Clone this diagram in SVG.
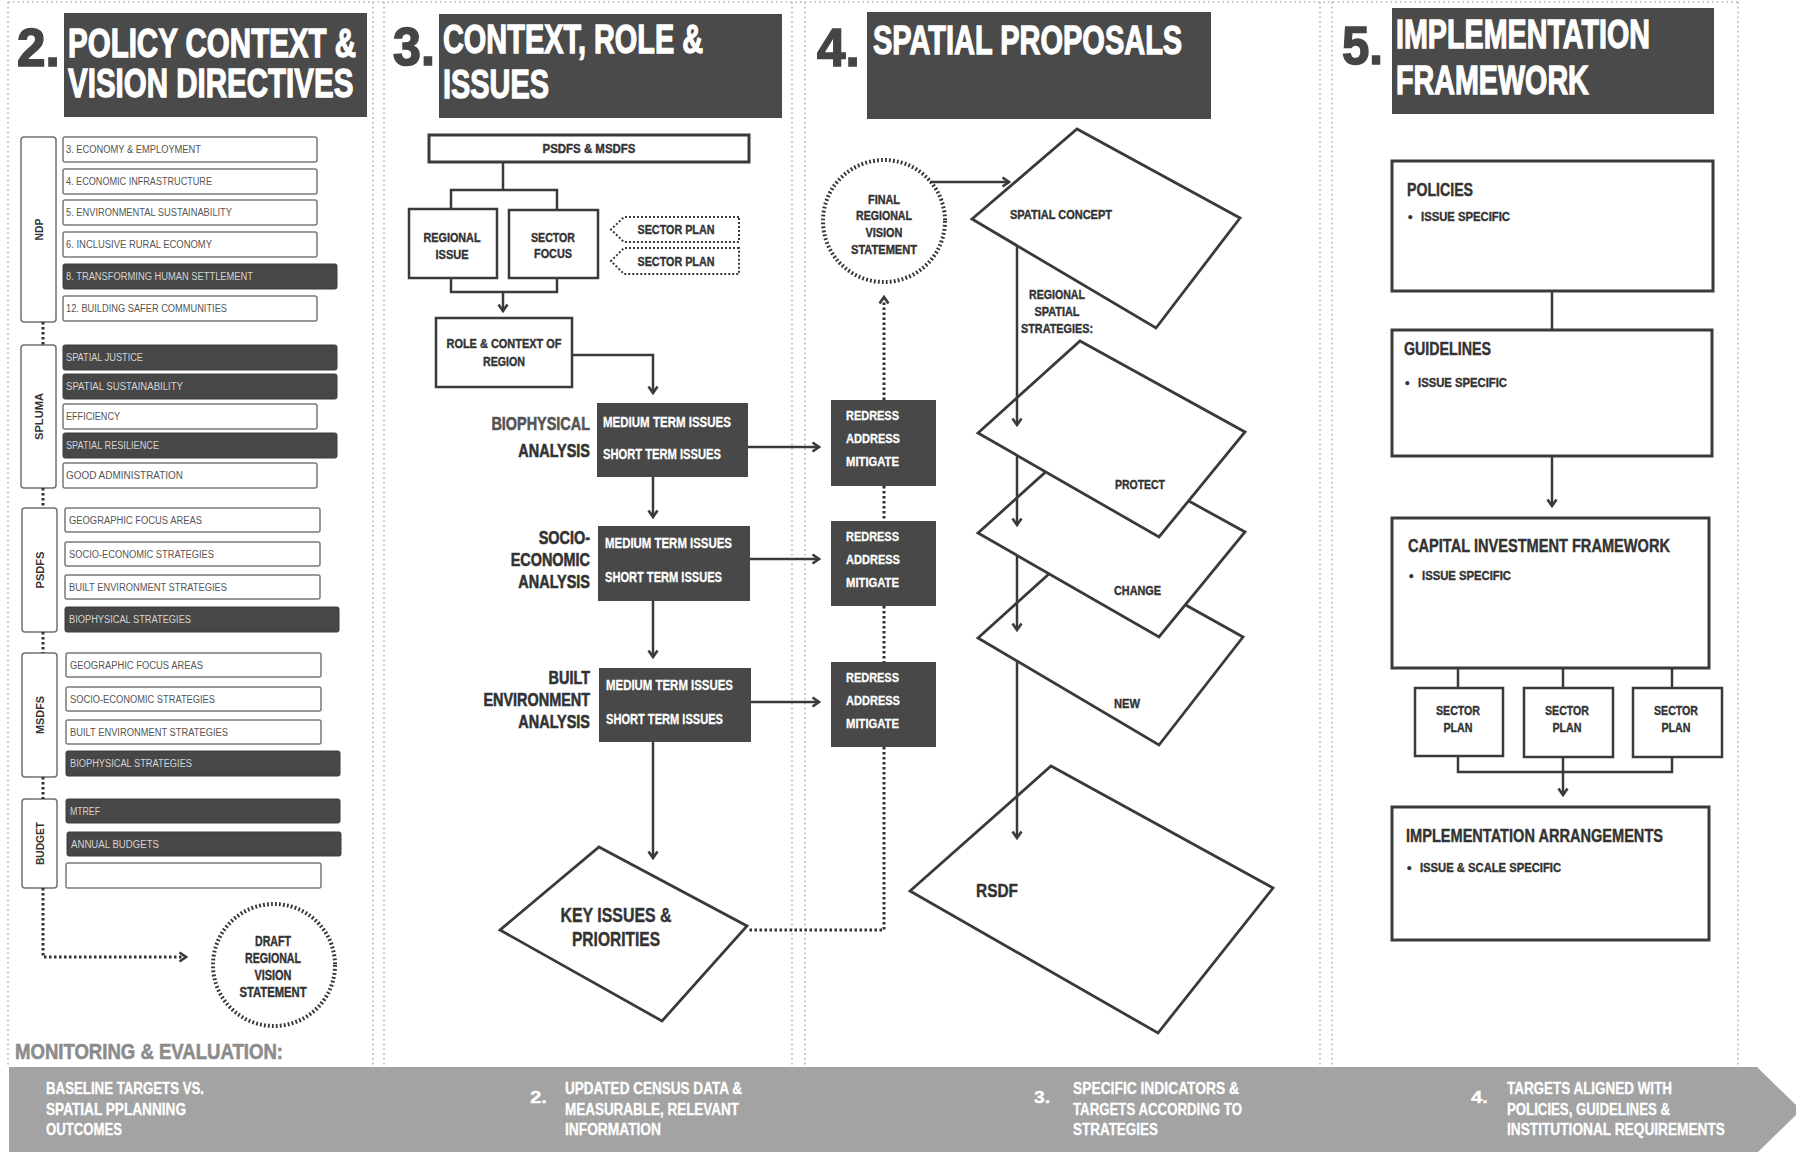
<svg xmlns="http://www.w3.org/2000/svg" width="1796" height="1152" viewBox="0 0 1796 1152">
<defs>
<style>
.col{fill:none;stroke:#b4b4b4;stroke-width:1.6;stroke-dasharray:1.6 3.2}
.hbox{fill:#4a4a4a}
.f{font-family:"Liberation Sans Narrow","Liberation Sans",Arial,sans-serif;font-weight:bold}
.hf{font-family:"Liberation Sans",Arial,sans-serif;font-weight:bold}
.hd{font-size:41px;fill:#fff;stroke:#fff;stroke-width:1.3}
.num{font-size:54px;fill:#454545;stroke:#454545;stroke-width:1.6}
.side{fill:#fff;stroke:#707070;stroke-width:1.5}
.itw{fill:#fff;stroke:#7a7a7a;stroke-width:1.5}
.itd{fill:#474747;stroke:#3c3c3c;stroke-width:1}
.it{font-family:"Liberation Sans",Arial,sans-serif;font-size:10px;fill:#555}
.itl{fill:#d4d4d4}
.sl{font-size:11px;fill:#333}
.lb{fill:#333;stroke:#333;stroke-width:0.4}
.an{font-size:19px;fill:#333;stroke:#333;stroke-width:0.6}
.wt{fill:#fff;stroke:#fff;stroke-width:0.3}
.box{fill:#fff;stroke:#3a3a3a;stroke-width:2.5}
.box3{fill:#fff;stroke:#3a3a3a;stroke-width:3}
.dark{fill:#484848}
.ln{fill:none;stroke:#3a3a3a;stroke-width:2.5}
.dot{fill:none;stroke:#333;stroke-width:3;stroke-dasharray:2.5 2.5}
.dcirc{fill:#fff;stroke:#333;stroke-width:4;stroke-dasharray:1.8 2.2}
.dsh{fill:#fff;stroke:#3a3a3a;stroke-width:2;stroke-dasharray:2 2}
.para{fill:#fff;stroke:#3a3a3a;stroke-width:2.8}
.band{fill:#a3a3a3}
.bt{font-size:16px;fill:#fff;stroke:#fff;stroke-width:0.3}
</style>
<marker id="ah" viewBox="0 0 12 12" refX="10" refY="6" markerWidth="12" markerHeight="12" markerUnits="userSpaceOnUse" orient="auto">
<path d="M3.5,1.5 L10,6 L3.5,10.5" fill="none" stroke="#3a3a3a" stroke-width="2.6"/>
</marker>
</defs>
<rect width="1796" height="1152" fill="#fff"/>

<!-- column frames -->
<g id="columns">
<path class="col" d="M8,2H1738 M8,2V1067 M373,2V1067 M384,2V1067 M792,2V1067 M805,2V1067 M1320,2V1067 M1332,2V1067 M1738,2V1067"/>
</g>

<!-- section headers (condensed by horizontal scaling) -->
<g id="header-2">
<rect class="hbox" x="64" y="13" width="303" height="104"/>
<text class="hf num" transform="translate(17,66) scale(0.95,1)">2.</text>
<text class="hf hd" transform="translate(68,0) scale(0.72,1)"><tspan x="0" y="57">POLICY CONTEXT &amp;</tspan><tspan x="0" y="97">VISION DIRECTIVES</tspan></text>
</g>
<g id="header-3">
<rect class="hbox" x="439" y="14" width="343" height="104"/>
<text class="hf num" transform="translate(393,65) scale(0.93,1)">3.</text>
<text class="hf hd" transform="translate(443,0) scale(0.705,1)"><tspan x="0" y="53">CONTEXT, ROLE &amp;</tspan><tspan x="0" y="98">ISSUES</tspan></text>
</g>
<g id="header-4">
<rect class="hbox" x="867" y="12" width="344" height="107"/>
<text class="hf num" transform="translate(817,66) scale(0.95,1)">4.</text>
<text class="hf hd" transform="translate(873,54) scale(0.707,1)">SPATIAL PROPOSALS</text>
</g>
<g id="header-5">
<rect class="hbox" x="1392" y="8" width="322" height="106"/>
<text class="hf num" transform="translate(1342,64) scale(0.91,1)">5.</text>
<text class="hf hd" transform="translate(1396,0) scale(0.70,1)"><tspan x="0" y="48">IMPLEMENTATION</tspan><tspan x="0" y="94">FRAMEWORK</tspan></text>
</g>

<!-- section 2: policy directives -->
<g id="ndp">
<rect class="side" x="21" y="137" width="35" height="185" rx="3"/>
<text class="f sl" transform="translate(43,229.5) rotate(-90)" text-anchor="middle" textLength="22" lengthAdjust="spacingAndGlyphs">NDP</text>
<rect class="itw" x="63" y="137" width="254" height="25" rx="2"/>
<text class="it" x="66" y="153" textLength="135" lengthAdjust="spacingAndGlyphs">3. ECONOMY &amp; EMPLOYMENT</text>
<rect class="itw" x="63" y="169" width="254" height="25" rx="2"/>
<text class="it" x="66" y="185" textLength="146" lengthAdjust="spacingAndGlyphs">4. ECONOMIC INFRASTRUCTURE</text>
<rect class="itw" x="63" y="200" width="254" height="25" rx="2"/>
<text class="it" x="66" y="216" textLength="166" lengthAdjust="spacingAndGlyphs">5. ENVIRONMENTAL SUSTAINABILITY</text>
<rect class="itw" x="63" y="232" width="254" height="25" rx="2"/>
<text class="it" x="66" y="248" textLength="146" lengthAdjust="spacingAndGlyphs">6. INCLUSIVE RURAL ECONOMY</text>
<rect class="itd" x="63" y="264" width="274" height="25" rx="2"/>
<text class="it itl" x="66" y="280" textLength="187" lengthAdjust="spacingAndGlyphs">8. TRANSFORMING HUMAN SETTLEMENT</text>
<rect class="itw" x="63" y="296" width="254" height="25" rx="2"/>
<text class="it" x="66" y="312" textLength="161" lengthAdjust="spacingAndGlyphs">12. BUILDING SAFER COMMUNITIES</text>
</g>
<g id="spluma">
<rect class="side" x="21" y="345" width="35" height="143" rx="3"/>
<text class="f sl" transform="translate(43,416.5) rotate(-90)" text-anchor="middle" textLength="47" lengthAdjust="spacingAndGlyphs">SPLUMA</text>
<rect class="itd" x="63" y="345" width="274" height="25" rx="2"/>
<text class="it itl" x="66" y="361" textLength="77" lengthAdjust="spacingAndGlyphs">SPATIAL JUSTICE</text>
<rect class="itd" x="63" y="374" width="274" height="25" rx="2"/>
<text class="it itl" x="66" y="390" textLength="117" lengthAdjust="spacingAndGlyphs">SPATIAL SUSTAINABILITY</text>
<rect class="itw" x="63" y="404" width="254" height="25" rx="2"/>
<text class="it" x="66" y="420" textLength="54" lengthAdjust="spacingAndGlyphs">EFFICIENCY</text>
<rect class="itd" x="63" y="433" width="274" height="25" rx="2"/>
<text class="it itl" x="66" y="449" textLength="93" lengthAdjust="spacingAndGlyphs">SPATIAL RESILIENCE</text>
<rect class="itw" x="63" y="463" width="254" height="25" rx="2"/>
<text class="it" x="66" y="479" textLength="117" lengthAdjust="spacingAndGlyphs">GOOD ADMINISTRATION</text>
</g>
<g id="psdfs">
<rect class="side" x="22" y="508" width="35" height="124" rx="3"/>
<text class="f sl" transform="translate(44,570) rotate(-90)" text-anchor="middle" textLength="37" lengthAdjust="spacingAndGlyphs">PSDFS</text>
<rect class="itw" x="65" y="508" width="255" height="24" rx="2"/>
<text class="it" x="69" y="524" textLength="133" lengthAdjust="spacingAndGlyphs">GEOGRAPHIC FOCUS AREAS</text>
<rect class="itw" x="65" y="542" width="255" height="24" rx="2"/>
<text class="it" x="69" y="558" textLength="145" lengthAdjust="spacingAndGlyphs">SOCIO-ECONOMIC STRATEGIES</text>
<rect class="itw" x="65" y="575" width="255" height="24" rx="2"/>
<text class="it" x="69" y="591" textLength="158" lengthAdjust="spacingAndGlyphs">BUILT ENVIRONMENT STRATEGIES</text>
<rect class="itd" x="65" y="607" width="274" height="25" rx="2"/>
<text class="it itl" x="69" y="623" textLength="122" lengthAdjust="spacingAndGlyphs">BIOPHYSICAL STRATEGIES</text>
</g>
<g id="msdfs">
<rect class="side" x="22" y="653" width="35" height="124" rx="3"/>
<text class="f sl" transform="translate(44,715) rotate(-90)" text-anchor="middle" textLength="38" lengthAdjust="spacingAndGlyphs">MSDFS</text>
<rect class="itw" x="66" y="653" width="255" height="24" rx="2"/>
<text class="it" x="70" y="669" textLength="133" lengthAdjust="spacingAndGlyphs">GEOGRAPHIC FOCUS AREAS</text>
<rect class="itw" x="66" y="687" width="255" height="24" rx="2"/>
<text class="it" x="70" y="703" textLength="145" lengthAdjust="spacingAndGlyphs">SOCIO-ECONOMIC STRATEGIES</text>
<rect class="itw" x="66" y="720" width="255" height="24" rx="2"/>
<text class="it" x="70" y="736" textLength="158" lengthAdjust="spacingAndGlyphs">BUILT ENVIRONMENT STRATEGIES</text>
<rect class="itd" x="66" y="751" width="274" height="25" rx="2"/>
<text class="it itl" x="70" y="767" textLength="122" lengthAdjust="spacingAndGlyphs">BIOPHYSICAL STRATEGIES</text>
</g>
<g id="budget">
<rect class="side" x="22" y="799" width="35" height="89" rx="3"/>
<text class="f sl" transform="translate(44,843.5) rotate(-90)" text-anchor="middle" textLength="43" lengthAdjust="spacingAndGlyphs">BUDGET</text>
<rect class="itd" x="66" y="799" width="274" height="24" rx="2"/>
<text class="it itl" x="70" y="815" textLength="30" lengthAdjust="spacingAndGlyphs">MTREF</text>
<rect class="itd" x="67" y="832" width="274" height="24" rx="2"/>
<text class="it itl" x="71" y="848" textLength="88" lengthAdjust="spacingAndGlyphs">ANNUAL BUDGETS</text>
<rect class="itw" x="66" y="863" width="255" height="25" rx="2"/>
</g>
<g id="draft-vision">
<circle class="dcirc" cx="274" cy="965" r="61"/>
<text class="f lb" font-size="14" text-anchor="middle" x="273" y="946" textLength="36" lengthAdjust="spacingAndGlyphs">DRAFT</text>
<text class="f lb" font-size="14" text-anchor="middle" x="273" y="963" textLength="56" lengthAdjust="spacingAndGlyphs">REGIONAL</text>
<text class="f lb" font-size="14" text-anchor="middle" x="273" y="980" textLength="37" lengthAdjust="spacingAndGlyphs">VISION</text>
<text class="f lb" font-size="14" text-anchor="middle" x="273" y="997" textLength="67" lengthAdjust="spacingAndGlyphs">STATEMENT</text>
</g>

<!-- section 3: context, role and issues -->
<g id="psdfs-msdfs">
<rect class="box3" x="429" y="135" width="320" height="27"/>
<text class="f lb" font-size="13" text-anchor="middle" x="589" y="153" textLength="93" lengthAdjust="spacingAndGlyphs">PSDFS &amp; MSDFS</text>
</g>
<g id="regional-issue">
<rect class="box" x="409" y="209" width="88" height="69"/>
<text class="f lb" font-size="13" text-anchor="middle" x="452" y="242" textLength="57" lengthAdjust="spacingAndGlyphs">REGIONAL</text>
<text class="f lb" font-size="13" text-anchor="middle" x="452" y="259" textLength="33" lengthAdjust="spacingAndGlyphs">ISSUE</text>
</g>
<g id="sector-focus">
<rect class="box" x="509" y="210" width="89" height="68"/>
<text class="f lb" font-size="13" text-anchor="middle" x="553" y="242" textLength="44" lengthAdjust="spacingAndGlyphs">SECTOR</text>
<text class="f lb" font-size="13" text-anchor="middle" x="553" y="258" textLength="38" lengthAdjust="spacingAndGlyphs">FOCUS</text>
</g>
<g id="sector-plan-a">
<path class="dsh" d="M739,217H624L611,229.5L624,242H739Z"/>
<text class="f lb" font-size="13" text-anchor="middle" x="676" y="234" textLength="77" lengthAdjust="spacingAndGlyphs">SECTOR PLAN</text>
</g>
<g id="sector-plan-b">
<path class="dsh" d="M739,248H624L611,261L624,274H739Z"/>
<text class="f lb" font-size="13" text-anchor="middle" x="676" y="266" textLength="77" lengthAdjust="spacingAndGlyphs">SECTOR PLAN</text>
</g>
<g id="role-context">
<rect class="box" x="436" y="318" width="136" height="69"/>
<text class="f lb" font-size="13" text-anchor="middle" x="504" y="348" textLength="115" lengthAdjust="spacingAndGlyphs">ROLE &amp; CONTEXT OF</text>
<text class="f lb" font-size="13" text-anchor="middle" x="504" y="366" textLength="42" lengthAdjust="spacingAndGlyphs">REGION</text>
</g>
<g id="biophysical">
<text class="hf an" text-anchor="end" transform="translate(590,0) scale(0.76,1)"><tspan x="0" y="430" style="fill:#555;stroke:#555">BIOPHYSICAL</tspan><tspan x="0" y="457">ANALYSIS</tspan></text>
<rect class="dark" x="597" y="403" width="151" height="74"/>
<text class="f wt" font-size="14" x="603" y="427" textLength="128" lengthAdjust="spacingAndGlyphs">MEDIUM TERM ISSUES</text>
<text class="f wt" font-size="14" x="603" y="459" textLength="118" lengthAdjust="spacingAndGlyphs">SHORT TERM ISSUES</text>
</g>
<g id="socio-economic">
<text class="hf an" text-anchor="end" transform="translate(590,0) scale(0.76,1)"><tspan x="0" y="544">SOCIO-</tspan><tspan x="0" y="566">ECONOMIC</tspan><tspan x="0" y="588">ANALYSIS</tspan></text>
<rect class="dark" x="598" y="526" width="152" height="75"/>
<text class="f wt" font-size="14" x="605" y="548" textLength="127" lengthAdjust="spacingAndGlyphs">MEDIUM TERM ISSUES</text>
<text class="f wt" font-size="14" x="605" y="582" textLength="117" lengthAdjust="spacingAndGlyphs">SHORT TERM ISSUES</text>
</g>
<g id="built-environment">
<text class="hf an" text-anchor="end" transform="translate(590,0) scale(0.76,1)"><tspan x="0" y="684">BUILT</tspan><tspan x="0" y="706">ENVIRONMENT</tspan><tspan x="0" y="728">ANALYSIS</tspan></text>
<rect class="dark" x="599" y="668" width="152" height="74"/>
<text class="f wt" font-size="14" x="606" y="690" textLength="127" lengthAdjust="spacingAndGlyphs">MEDIUM TERM ISSUES</text>
<text class="f wt" font-size="14" x="606" y="724" textLength="117" lengthAdjust="spacingAndGlyphs">SHORT TERM ISSUES</text>
</g>
<g id="response-1">
<rect class="dark" x="831" y="400" width="105" height="86"/>
<text class="f wt" font-size="13" x="846" y="420" textLength="53" lengthAdjust="spacingAndGlyphs">REDRESS</text>
<text class="f wt" font-size="13" x="846" y="443" textLength="54" lengthAdjust="spacingAndGlyphs">ADDRESS</text>
<text class="f wt" font-size="13" x="846" y="466" textLength="53" lengthAdjust="spacingAndGlyphs">MITIGATE</text>
</g>
<g id="response-2">
<rect class="dark" x="831" y="521" width="105" height="85"/>
<text class="f wt" font-size="13" x="846" y="541" textLength="53" lengthAdjust="spacingAndGlyphs">REDRESS</text>
<text class="f wt" font-size="13" x="846" y="564" textLength="54" lengthAdjust="spacingAndGlyphs">ADDRESS</text>
<text class="f wt" font-size="13" x="846" y="587" textLength="53" lengthAdjust="spacingAndGlyphs">MITIGATE</text>
</g>
<g id="response-3">
<rect class="dark" x="831" y="662" width="105" height="85"/>
<text class="f wt" font-size="13" x="846" y="682" textLength="53" lengthAdjust="spacingAndGlyphs">REDRESS</text>
<text class="f wt" font-size="13" x="846" y="705" textLength="54" lengthAdjust="spacingAndGlyphs">ADDRESS</text>
<text class="f wt" font-size="13" x="846" y="728" textLength="53" lengthAdjust="spacingAndGlyphs">MITIGATE</text>
</g>
<g id="key-issues">
<polygon class="para" points="599,847 747,926 662,1021 500,930"/>
<text class="f lb" font-size="20" text-anchor="middle" x="616" y="922" textLength="111" lengthAdjust="spacingAndGlyphs">KEY ISSUES &amp;</text>
<text class="f lb" font-size="20" text-anchor="middle" x="616" y="946" textLength="88" lengthAdjust="spacingAndGlyphs">PRIORITIES</text>
</g>

<!-- section 4: spatial proposals -->
<g id="final-vision">
<circle class="dcirc" cx="884" cy="221" r="61"/>
<text class="f lb" font-size="13" text-anchor="middle" x="884" y="204" textLength="32" lengthAdjust="spacingAndGlyphs">FINAL</text>
<text class="f lb" font-size="13" text-anchor="middle" x="884" y="220" textLength="56" lengthAdjust="spacingAndGlyphs">REGIONAL</text>
<text class="f lb" font-size="13" text-anchor="middle" x="884" y="237" textLength="37" lengthAdjust="spacingAndGlyphs">VISION</text>
<text class="f lb" font-size="13" text-anchor="middle" x="884" y="254" textLength="66" lengthAdjust="spacingAndGlyphs">STATEMENT</text>
</g>
<g id="spatial-concept">
<polygon class="para" points="972,219 1077,129 1240,218 1156,328"/>
<text class="f lb" font-size="13" x="1010" y="219" textLength="102" lengthAdjust="spacingAndGlyphs">SPATIAL CONCEPT</text>
</g>
<g id="new">
<polygon class="para" points="978,638 1080,546 1243,637 1159,745"/>
<text class="f lb" font-size="13" x="1114" y="708" textLength="26" lengthAdjust="spacingAndGlyphs">NEW</text>
</g>
<g id="change">
<polygon class="para" points="978,533 1080,441 1245,532 1159,637"/>
<text class="f lb" font-size="13" x="1114" y="595" textLength="47" lengthAdjust="spacingAndGlyphs">CHANGE</text>
</g>
<g id="protect">
<polygon class="para" points="978,433 1080,341 1245,432 1159,537"/>
<text class="f lb" font-size="13" x="1115" y="489" textLength="50" lengthAdjust="spacingAndGlyphs">PROTECT</text>
</g>
<g id="rsdf">
<polygon class="para" points="910,891 1051,766 1273,888 1158,1033"/>
<text class="f lb" font-size="19" x="976" y="897" textLength="42" lengthAdjust="spacingAndGlyphs">RSDF</text>
</g>

<!-- section 5: implementation framework -->
<g id="policies">
<rect class="box3" x="1392" y="161" width="321" height="130"/>
<text class="f lb" font-size="18" x="1407" y="196" textLength="66" lengthAdjust="spacingAndGlyphs">POLICIES</text>
<text class="f lb" font-size="13" x="1408" y="221">•</text>
<text class="f lb" font-size="13" x="1421" y="221" textLength="89" lengthAdjust="spacingAndGlyphs">ISSUE SPECIFIC</text>
</g>
<g id="guidelines">
<rect class="box3" x="1392" y="330" width="320" height="126"/>
<text class="f lb" font-size="18" x="1404" y="355" textLength="87" lengthAdjust="spacingAndGlyphs">GUIDELINES</text>
<text class="f lb" font-size="13" x="1405" y="387">•</text>
<text class="f lb" font-size="13" x="1418" y="387" textLength="89" lengthAdjust="spacingAndGlyphs">ISSUE SPECIFIC</text>
</g>
<g id="capital-investment">
<rect class="box3" x="1392" y="518" width="317" height="150"/>
<text class="f lb" font-size="18" x="1408" y="552" textLength="262" lengthAdjust="spacingAndGlyphs">CAPITAL INVESTMENT FRAMEWORK</text>
<text class="f lb" font-size="13" x="1409" y="580">•</text>
<text class="f lb" font-size="13" x="1422" y="580" textLength="89" lengthAdjust="spacingAndGlyphs">ISSUE SPECIFIC</text>
</g>
<g id="sector-plan-1">
<rect class="box" x="1415" y="688" width="88" height="68" stroke-width="2"/>
<text class="f lb" font-size="13" text-anchor="middle" x="1458" y="715" textLength="44" lengthAdjust="spacingAndGlyphs">SECTOR</text>
<text class="f lb" font-size="13" text-anchor="middle" x="1458" y="732" textLength="29" lengthAdjust="spacingAndGlyphs">PLAN</text>
</g>
<g id="sector-plan-2">
<rect class="box" x="1524" y="688" width="89" height="69" stroke-width="2"/>
<text class="f lb" font-size="13" text-anchor="middle" x="1567" y="715" textLength="44" lengthAdjust="spacingAndGlyphs">SECTOR</text>
<text class="f lb" font-size="13" text-anchor="middle" x="1567" y="732" textLength="29" lengthAdjust="spacingAndGlyphs">PLAN</text>
</g>
<g id="sector-plan-3">
<rect class="box" x="1633" y="688" width="89" height="69" stroke-width="2"/>
<text class="f lb" font-size="13" text-anchor="middle" x="1676" y="715" textLength="44" lengthAdjust="spacingAndGlyphs">SECTOR</text>
<text class="f lb" font-size="13" text-anchor="middle" x="1676" y="732" textLength="29" lengthAdjust="spacingAndGlyphs">PLAN</text>
</g>
<g id="implementation-arrangements">
<rect class="box3" x="1392" y="807" width="317" height="133"/>
<text class="f lb" font-size="18" x="1406" y="842" textLength="257" lengthAdjust="spacingAndGlyphs">IMPLEMENTATION ARRANGEMENTS</text>
<text class="f lb" font-size="13" x="1407" y="872">•</text>
<text class="f lb" font-size="13" x="1420" y="872" textLength="141" lengthAdjust="spacingAndGlyphs">ISSUE &amp; SCALE SPECIFIC</text>
</g>

<!-- connectors -->
<g id="connectors">
<path class="dot" d="M43,322V345 M43,488V508 M43,632V653 M43,777V799"/>
<path class="dot" d="M43,888V957H186" marker-end="url(#ah)"/>
<path class="ln" d="M503,162V190 M451,209V190H557V210"/>
<path class="ln" d="M451,278V292H557V278"/>
<path class="ln" d="M503,292V311" marker-end="url(#ah)"/>
<path class="ln" d="M572,355H653V393" marker-end="url(#ah)"/>
<path class="ln" d="M653,477V517" marker-end="url(#ah)"/>
<path class="ln" d="M653,601V657" marker-end="url(#ah)"/>
<path class="ln" d="M653,742V858" marker-end="url(#ah)"/>
<path class="ln" d="M748,447H819" marker-end="url(#ah)"/>
<path class="ln" d="M750,559H819" marker-end="url(#ah)"/>
<path class="ln" d="M751,702H819" marker-end="url(#ah)"/>
<path class="dot" d="M884,486V521 M884,606V662 M884,747V930H747"/>
<path class="dot" d="M884,400V297" marker-end="url(#ah)"/>
<path class="ln" d="M930,182H1009" marker-end="url(#ah)"/>
<path class="ln" d="M1017,246V425" marker-end="url(#ah)"/>
<path class="ln" d="M1017,455V525" marker-end="url(#ah)"/>
<path class="ln" d="M1017,555V630" marker-end="url(#ah)"/>
<path class="ln" d="M1017,661V838" marker-end="url(#ah)"/>
<path class="ln" d="M1552,291V330"/>
<path class="ln" d="M1552,456V506" marker-end="url(#ah)"/>
<path class="ln" d="M1458,668V688 M1563,668V688 M1672,668V688"/>
<path class="ln" d="M1458,756V772H1672V757"/>
<path class="ln" d="M1563,757V795" marker-end="url(#ah)"/>
</g>

<!-- section 4 strategy label sits over the lines -->
<g id="strategies-label">
<text class="f lb" font-size="13" text-anchor="middle" x="1057" y="299" textLength="56" lengthAdjust="spacingAndGlyphs">REGIONAL</text>
<text class="f lb" font-size="13" text-anchor="middle" x="1057" y="316" textLength="45" lengthAdjust="spacingAndGlyphs">SPATIAL</text>
<text class="f lb" font-size="13" text-anchor="middle" x="1057" y="333" textLength="72" lengthAdjust="spacingAndGlyphs">STRATEGIES:</text>
</g>

<!-- monitoring and evaluation band -->
<g id="monitoring">
<text class="f" font-size="22" fill="#8c8c8c" stroke="#8c8c8c" stroke-width="0.6" x="15" y="1059" textLength="268" lengthAdjust="spacingAndGlyphs">MONITORING &amp; EVALUATION:</text>
<polygon class="band" points="9,1067 1757,1067 1801,1110 1757,1153 9,1153"/>
<text class="f bt" x="46" y="1094" textLength="158" lengthAdjust="spacingAndGlyphs">BASELINE TARGETS VS.</text>
<text class="f bt" x="46" y="1115" textLength="140" lengthAdjust="spacingAndGlyphs">SPATIAL PPLANNING</text>
<text class="f bt" x="46" y="1135" textLength="76" lengthAdjust="spacingAndGlyphs">OUTCOMES</text>
<text class="f bt" font-size="20" x="530" y="1103" textLength="17" lengthAdjust="spacingAndGlyphs">2.</text>
<text class="f bt" x="565" y="1094" textLength="177" lengthAdjust="spacingAndGlyphs">UPDATED CENSUS DATA &amp;</text>
<text class="f bt" x="565" y="1115" textLength="174" lengthAdjust="spacingAndGlyphs">MEASURABLE, RELEVANT</text>
<text class="f bt" x="565" y="1135" textLength="96" lengthAdjust="spacingAndGlyphs">INFORMATION</text>
<text class="f bt" font-size="20" x="1034" y="1103" textLength="16" lengthAdjust="spacingAndGlyphs">3.</text>
<text class="f bt" x="1073" y="1094" textLength="166" lengthAdjust="spacingAndGlyphs">SPECIFIC INDICATORS &amp;</text>
<text class="f bt" x="1073" y="1115" textLength="169" lengthAdjust="spacingAndGlyphs">TARGETS ACCORDING TO</text>
<text class="f bt" x="1073" y="1135" textLength="85" lengthAdjust="spacingAndGlyphs">STRATEGIES</text>
<text class="f bt" font-size="20" x="1471" y="1103" textLength="17" lengthAdjust="spacingAndGlyphs">4.</text>
<text class="f bt" x="1507" y="1094" textLength="165" lengthAdjust="spacingAndGlyphs">TARGETS ALIGNED WITH</text>
<text class="f bt" x="1507" y="1115" textLength="163" lengthAdjust="spacingAndGlyphs">POLICIES, GUIDELINES &amp;</text>
<text class="f bt" x="1507" y="1135" textLength="218" lengthAdjust="spacingAndGlyphs">INSTITUTIONAL REQUIREMENTS</text>
</g>
</svg>
